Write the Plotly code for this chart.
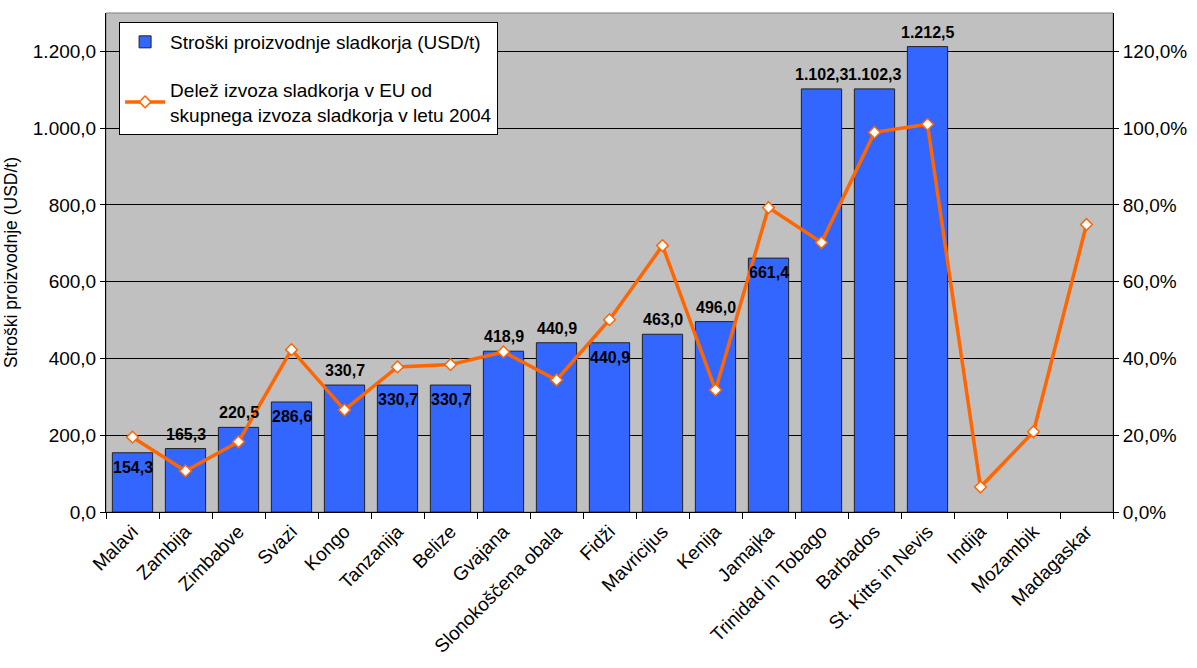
import plotly.graph_objects as go

countries = ["Malavi", "Zambija", "Zimbabve", "Svazi", "Kongo", "Tanzanija", "Belize",
             "Gvajana", "Slonokoščena obala", "Fidži", "Mavricijus", "Kenija", "Jamajka",
             "Trinidad in Tobago", "Barbados", "St. Kitts in Nevis", "Indija", "Mozambik",
             "Madagaskar"]
cost_usd_t = [154.3, 165.3, 220.5, 286.6, 330.7, 330.7, 330.7, 418.9, 440.9, 440.9,
              463.0, 496.0, 661.4, 1102.3, 1102.3, 1212.5, None, None, None]
eu_share = [0.195, 0.107, 0.183, 0.423, 0.266, 0.378, 0.384, 0.417, 0.344, 0.501,
            0.694, 0.318, 0.793, 0.702, 0.989, 1.010, 0.065, 0.209, 0.749]
# where each value label sits relative to its bar top
label_side = ["in", "out", "out", "in", "out", "in", "in", "out", "out", "in",
              "out", "out", "in", "out", "out", "out", None, None, None]

FONT = "Liberation Sans, Arial, sans-serif"


def fmt_sl(v):
    s = f"{v:,.1f}"
    return s.replace(",", "X").replace(".", ",").replace("X", ".")


fig = go.Figure()
fig.add_trace(go.Bar(
    x=countries, y=cost_usd_t, name="Stroški proizvodnje sladkorja (USD/t)",
    marker=dict(color="#3366FF", line=dict(color="#222222", width=1)),
    legendgroup="a",
))
fig.add_trace(go.Scatter(
    x=countries, y=eu_share, yaxis="y2", mode="lines+markers",
    name="Delež izvoza sladkorja v EU od<br>skupnega izvoza sladkorja v letu 2004",
    line=dict(color="#FF6600", width=3.5),
    marker=dict(symbol="diamond", size=9, color="white",
                line=dict(color="#FF6600", width=1.5)),
    legendgroup="b",
))

annotations = []
for c, v, side in zip(countries, cost_usd_t, label_side):
    if v is None:
        continue
    annotations.append(dict(
        x=c, y=v, xref="x", yref="y", text=f"<b>{fmt_sl(v)}</b>", showarrow=False,
        yanchor="bottom" if side == "out" else "top",
        yshift=4 if side == "out" else -4,
        font=dict(family=FONT, size=16, color="black"),
    ))

fig.update_layout(
    width=1197, height=668,
    margin=dict(l=106, r=84, t=13, b=156),
    paper_bgcolor="white", plot_bgcolor="#C0C0C0",
    separators=",.",
    font=dict(family=FONT, size=19, color="black"),
    bargap=0.24,
    showlegend=True,
    legend=dict(x=0.013, y=0.982, xanchor="left", yanchor="top",
                bgcolor="white", bordercolor="black", borderwidth=1,
                font=dict(family=FONT, size=19), tracegroupgap=20,
                itemwidth=40),
    xaxis=dict(
        range=[-0.5, len(countries) - 0.5],
        tickangle=-45, ticks="outside", ticklen=6, tickcolor="black",
        tickson="boundaries", showline=True, linecolor="black", linewidth=1,
        mirror=False, showgrid=False, tickfont=dict(family=FONT, size=19),
        automargin=False,
    ),
    yaxis=dict(
        range=[0, 1300], dtick=200, tickformat=",.1f",
        showgrid=True, gridcolor="black", gridwidth=1,
        showline=True, linecolor="black", linewidth=1,
        ticks="outside", ticklen=5, tickcolor="black",
        zeroline=False, automargin=False,
        title=dict(text="Stroški proizvodnje (USD/t)", font=dict(family=FONT, size=17.5),
                   standoff=10),
        tickfont=dict(family=FONT, size=19),
    ),
    yaxis2=dict(
        range=[0, 1.3], dtick=0.2, tickformat=".1%", overlaying="y", side="right",
        showgrid=False, showline=True, linecolor="black", linewidth=1,
        ticks="outside", ticklen=5, tickcolor="black", zeroline=False,
        automargin=False, tickfont=dict(family=FONT, size=19),
    ),
    annotations=annotations,
    shapes=[dict(type="rect", xref="paper", yref="paper", x0=0, x1=1, y0=0, y1=1,
                 line=dict(color="#808080", width=1), layer="below")],
)

fig.write_html("out.html")
